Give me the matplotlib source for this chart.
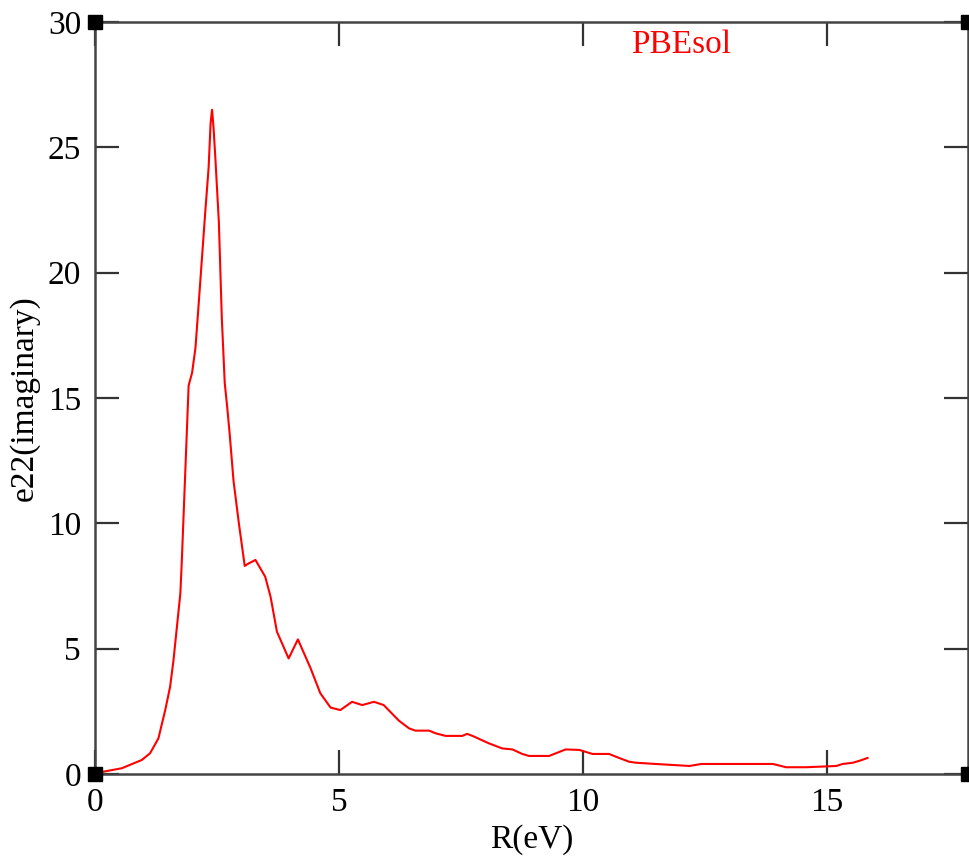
import matplotlib
matplotlib.use("Agg")
import matplotlib.pyplot as plt
import numpy as np

# values
energy = [0.0, 0.11, 0.55, 0.96, 1.13, 1.30, 1.44, 1.54, 1.61, 1.68, 1.75, 1.78,
          1.85, 1.92, 1.99, 2.06, 2.12, 2.19, 2.26, 2.33, 2.37, 2.40,
          2.43, 2.47, 2.54, 2.60, 2.66, 2.71, 2.76, 2.84, 2.95, 3.07,
          3.15, 3.29, 3.49, 3.60, 3.73, 3.97, 4.16, 4.42, 4.62, 4.83, 5.03,
          5.27, 5.48, 5.72, 5.92, 6.23, 6.44, 6.57, 6.85, 6.99, 7.19, 7.53,
          7.63, 7.74, 8.08, 8.35, 8.56, 8.76, 8.90, 9.31, 9.65, 9.93, 10.2,
          10.54, 10.68, 10.95, 11.09, 11.5, 12.19, 12.43, 13.9, 14.17, 14.58,
          15.2, 15.33, 15.54, 15.68, 15.84]
eps2 = [0.05, 0.07, 0.23, 0.56, 0.83, 1.42, 2.55, 3.48, 4.55, 5.88, 7.2, 8.5,
        12.0, 15.5, 16.0, 17.0, 18.6, 20.5, 22.4, 24.2, 25.95, 26.5,
        25.8, 24.5, 22.0, 18.2, 15.6, 14.65, 13.6, 11.7, 10.0, 8.3,
        8.4, 8.54, 7.87, 7.07, 5.68, 4.61, 5.37, 4.22, 3.22, 2.65, 2.55,
        2.88, 2.75, 2.88, 2.75, 2.13, 1.82, 1.73, 1.73, 1.62, 1.52, 1.52,
        1.6, 1.52, 1.22, 1.02, 0.98, 0.80, 0.72, 0.72, 0.98, 0.96, 0.80,
        0.80, 0.69, 0.49, 0.45, 0.40, 0.32, 0.40, 0.40, 0.27, 0.27,
        0.32, 0.40, 0.45, 0.53, 0.64]
xticks = [0, 5, 10, 15]
yticks = [0, 5, 10, 15, 20, 25, 30]

plt.rcParams['font.family'] = ['Liberation Serif', 'DejaVu Serif']

fig = plt.figure(figsize=(9.7, 8.56), dpi=100)
ax = fig.add_axes([95 / 970, 1 - 774 / 856, (968 - 95) / 970, (774 - 22) / 856])

ax.plot(energy, eps2, color='#ff0000', lw=1.5)

ax.set_xlim(0, 17.9)
ax.set_ylim(0, 30)
ax.set_xticks(xticks)
ax.set_yticks(yticks)
ax.tick_params(direction='in', length=17, width=1.6, color='#333333',
               top=True, right=True, labelsize=24, pad=10)
for s in ax.spines.values():
    s.set_linewidth(1.8)
    s.set_color('#444444')

# corner squares of the frame
ax.plot([0, 17.9, 0, 17.9], [0, 0, 30, 30], 's', color='black', ms=10,
        clip_on=False, zorder=5)

ax.set_xlabel('R(eV)', fontsize=24, labelpad=4)
ax.set_ylabel('e22(imaginary)', fontsize=24, labelpad=6)
ax.text(0.671, 0.99, 'PBEsol', transform=ax.transAxes, color='#ff0000',
        fontsize=24, ha='center', va='top')

fig.savefig('out.png', dpi=100)
